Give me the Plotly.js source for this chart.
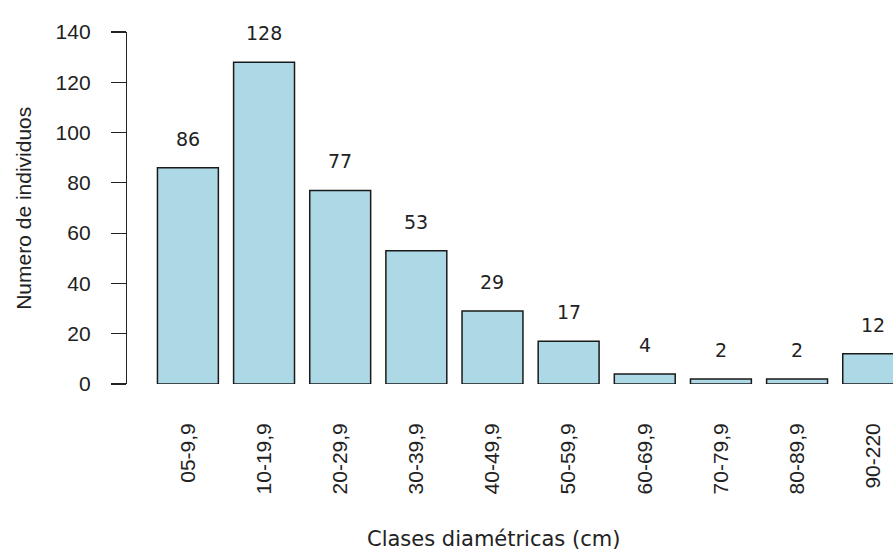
<!DOCTYPE html>
<html>
<head>
<meta charset="utf-8">
<script src="https://cdn.plot.ly/plotly-3.0.1.min.js"></script>
<style>html,body{margin:0;padding:0;background:#fff;}#chart{width:893px;height:552px;}</style>
</head>
<body>
<div id="chart"></div>
<script>
const categories = ["05-9,9","10-19,9","20-29,9","30-39,9","40-49,9","50-59,9","60-69,9","70-79,9","80-89,9","90-220"];
const counts = [86,128,77,53,29,17,4,2,2,12];
const yTicks = [0,20,40,60,80,100,120,140];

const trace = {
  type: 'bar',
  x: categories.map((c,i)=>i),
  y: counts,
  marker: {color: '#ADD8E6', line: {color: '#1a1a1a', width: 1.5}},
  hoverinfo: 'skip'
};

const annotations = categories.map((c,i)=>({
  x: i, y: counts[i], xref: 'x', yref: 'y', text: String(counts[i]),
  showarrow: false, yshift: 29, font: {family: 'DejaVu Sans', size: 19, color: '#222'}
}));
annotations.push({
  xref: 'paper', yref: 'paper', x: 0.478, y: -0.44, yanchor: 'middle', text: 'Clases diamétricas (cm)',
  showarrow: false, font: {family: 'DejaVu Sans', size: 21, color: '#222'}
});
annotations.push({
  xref: 'paper', yref: 'paper', x: -0.136, y: 0.5, xanchor: 'center', yanchor: 'middle', textangle: -90,
  text: 'Numero de individuos', showarrow: false,
  font: {family: 'Liberation Sans', size: 21, color: '#222'}
});

const layout = {
  width: 893, height: 552,
  margin: {l: 127, r: 0, t: 32, b: 168},
  paper_bgcolor: '#fff', plot_bgcolor: '#fff',
  showlegend: false,
  bargap: 0.2,
  xaxis: {
    range: [-0.8, 9.26],
    tickmode: 'array', tickvals: categories.map((c,i)=>i), ticktext: categories,
    tickangle: -90, ticks: '', showline: false, showgrid: false, zeroline: false,
    ticklabelstandoff: 34,
    tickfont: {family: 'Liberation Sans', size: 21, color: '#222'}
  },
  yaxis: {
    range: [0, 140], tickmode: 'array', tickvals: yTicks,
    ticks: 'outside', ticklen: 15, tickwidth: 1.2, tickcolor: '#222',
    showline: true, linecolor: '#222', linewidth: 1.2,
    showgrid: false, zeroline: false,
    ticklabelstandoff: 16,
    tickfont: {family: 'Liberation Sans', size: 21, color: '#222'}
  },
  annotations: annotations
};

Plotly.newPlot('chart', [trace], layout, {displayModeBar: false, staticPlot: true});
</script>
</body>
</html>
